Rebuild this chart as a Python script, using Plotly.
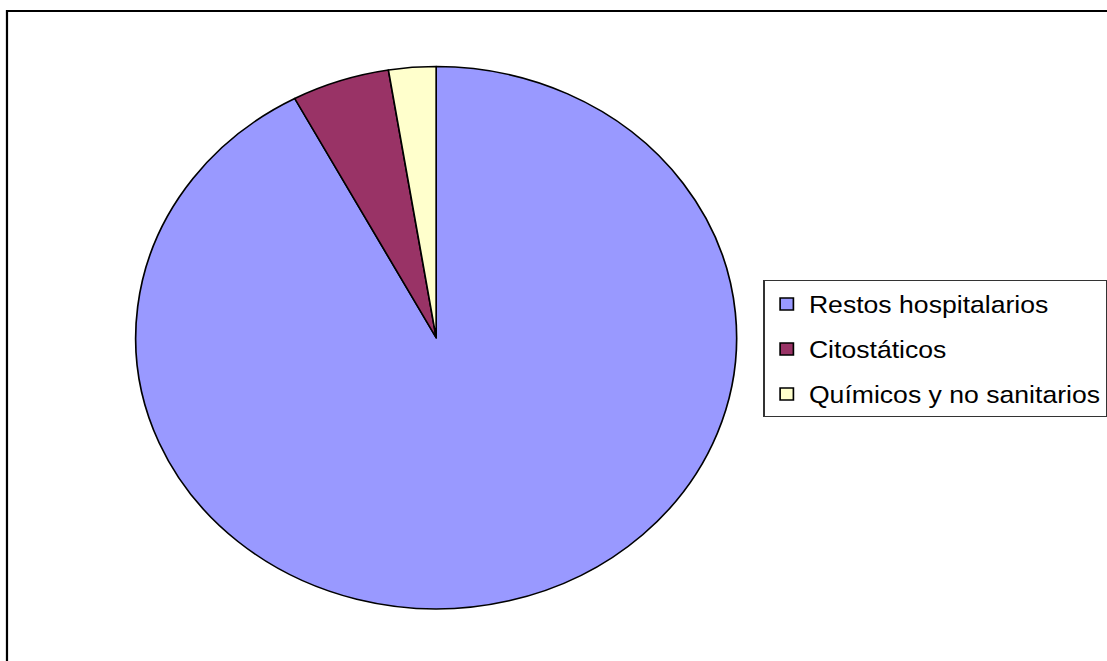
import plotly.graph_objects as go

labels = ["Restos hospitalarios", "Citostáticos", "Químicos y no sanitarios"]
values = [92.2, 5.26, 2.54]
colors = ["#9999FF", "#993366", "#FFFFCC"]

W_OUT = 1107
H = 661
SX = 1.108  # horizontal stretch of the reference picture
W = round(W_OUT / SX)

cx, r = 394.4, 271.7
top, bottom = 66, 609.5

fig = go.Figure(go.Pie(
    labels=labels,
    values=values,
    marker=dict(colors=colors, line=dict(color="black", width=1.5)),
    sort=False,
    direction="clockwise",
    rotation=0,
    textinfo="none",
    hoverinfo="label+percent",
    domain=dict(x=[(cx - r) / W, (cx + r) / W], y=[1 - bottom / H, 1 - top / H]),
))

fig.update_layout(
    width=W, height=H,
    margin=dict(l=0, r=0, t=0, b=0),
    paper_bgcolor="white",
    font=dict(family="Liberation Sans, Arial, sans-serif", color="black"),
    showlegend=True,
    legend=dict(
        x=690.4 / W, xanchor="left",
        y=1 - 280 / H, yanchor="top",
        bordercolor="#333333", borderwidth=1,
        bgcolor="white",
        font=dict(size=24, family="Liberation Sans, Arial, sans-serif", color="black"),
    ),
    shapes=[dict(type="rect", xref="paper", yref="paper",
                 x0=7 / W_OUT, x1=1.05, y0=-0.05, y1=1 - 11 / H,
                 line=dict(color="black", width=2), fillcolor="rgba(0,0,0,0)",
                 layer="below")],
)

post = """
document.body.style.margin='0';
document.body.style.overflow='hidden';
var gd = document.getElementById('{plot_id}');
gd.style.transformOrigin='0 0';
gd.style.transform='scaleX(%s)';
var STEP = 45, BOXH = 136;
var traces = gd.querySelectorAll('.legend .traces');
if (traces.length) {
  var m = /translate\\(([-\\d.]+)[ ,]+([-\\d.]+)\\)/.exec(traces[0].getAttribute('transform'));
  if (m) {
    var tx = parseFloat(m[1]), ty = parseFloat(m[2]) + 1;
    traces.forEach(function(g, i) {
      g.setAttribute('transform', 'translate(' + tx + ',' + (ty + i * STEP) + ')');
    });
  }
}
var bg = gd.querySelector('.legend .bg');
if (bg) bg.setAttribute('height', BOXH);
var sb = gd.querySelector('.legend .scrollbox');
if (sb) {
  var cp = sb.getAttribute('clip-path');
  var mm = cp && /#([^)"']+)/.exec(cp);
  if (mm) {
    var el = document.getElementById(mm[1]);
    if (el) { var rc = el.querySelector('rect'); if (rc) rc.setAttribute('height', BOXH); }
  }
}
""" % (W_OUT / W)

fig.write_html("out.html", post_script=post, config={"displayModeBar": False})
